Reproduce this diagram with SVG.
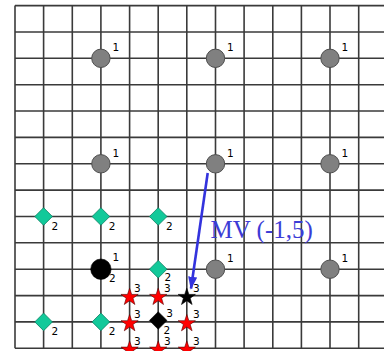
<svg xmlns="http://www.w3.org/2000/svg" width="384" height="351" viewBox="0 0 384 351">
  <style>
    .grid line { stroke: #3a3a3a; stroke-width: 1.6; }
    .pt1 { fill: #808080; stroke: #4e4e4e; stroke-width: 1; }
    .blk { fill: #000; stroke: #000; stroke-width: 0.6; }
    .dia { fill: #12c99a; stroke: #0b7f62; stroke-width: 0.8; }
    .star { fill: #ff0000; stroke: #5a0000; stroke-width: 0.6; }
    .lbl { font-family: "DejaVu Sans", sans-serif; font-size: 10.5px; fill: #000; }
    .mv { font-family: "Liberation Serif", serif; font-size: 25px; fill: #3c3cd6; }
  </style>
  <defs>
    <circle id="c1" r="9.2" class="pt1"/>
    <polygon id="dm" points="0,-8.8 8.8,0 0,8.8 -8.8,0"/>
    <polygon id="st" points="0,-9 2.1,-2.8 8.6,-2.8 3.4,1 5.3,7.3 0,3.5 -5.3,7.3 -3.4,1 -8.6,-2.8 -2.1,-2.8"/>
    <marker id="ah" viewBox="0 0 10 10" refX="9" refY="5" markerWidth="5" markerHeight="5" orient="auto" markerUnits="strokeWidth">
      <path d="M0,1.5 L10,5 L0,8.5 z" fill="#3333dd"/>
    </marker>
  </defs>

  <rect width="384" height="351" fill="#fff"/>

  <!-- lattice: 13 columns, 14 rows -->
  <g class="grid" id="grid">
    <line x1="15" y1="5.6" x2="15" y2="348.3"/>
    <line x1="43.6" y1="5.6" x2="43.6" y2="348.3"/>
    <line x1="72.3" y1="5.6" x2="72.3" y2="348.3"/>
    <line x1="100.9" y1="5.6" x2="100.9" y2="348.3"/>
    <line x1="129.6" y1="5.6" x2="129.6" y2="348.3"/>
    <line x1="158.2" y1="5.6" x2="158.2" y2="348.3"/>
    <line x1="186.8" y1="5.6" x2="186.8" y2="348.3"/>
    <line x1="215.5" y1="5.6" x2="215.5" y2="348.3"/>
    <line x1="244.1" y1="5.6" x2="244.1" y2="348.3"/>
    <line x1="272.8" y1="5.6" x2="272.8" y2="348.3"/>
    <line x1="301.4" y1="5.6" x2="301.4" y2="348.3"/>
    <line x1="330" y1="5.6" x2="330" y2="348.3"/>
    <line x1="358.7" y1="5.6" x2="358.7" y2="348.3"/>
    <line x1="15" y1="5.6" x2="384" y2="5.6"/>
    <line x1="15" y1="32" x2="384" y2="32"/>
    <line x1="15" y1="58.3" x2="384" y2="58.3"/>
    <line x1="15" y1="84.7" x2="384" y2="84.7"/>
    <line x1="15" y1="111" x2="384" y2="111"/>
    <line x1="15" y1="137.4" x2="384" y2="137.4"/>
    <line x1="15" y1="163.8" x2="384" y2="163.8"/>
    <line x1="15" y1="190.1" x2="384" y2="190.1"/>
    <line x1="15" y1="216.5" x2="384" y2="216.5"/>
    <line x1="15" y1="242.8" x2="384" y2="242.8"/>
    <line x1="15" y1="269.2" x2="384" y2="269.2"/>
    <line x1="15" y1="295.6" x2="384" y2="295.6"/>
    <line x1="15" y1="321.9" x2="384" y2="321.9"/>
    <line x1="15" y1="348.3" x2="384" y2="348.3"/>
  </g>

  <!-- level-1 points -->
  <g id="p1a"><use href="#c1" x="100.9" y="58.3"/><text class="lbl" x="112.5" y="51">1</text></g>
  <g id="p1b"><use href="#c1" x="215.5" y="58.3"/><text class="lbl" x="227" y="51">1</text></g>
  <g id="p1c"><use href="#c1" x="330" y="58.3"/><text class="lbl" x="341.5" y="51">1</text></g>
  <g id="p1d"><use href="#c1" x="100.9" y="163.8"/><text class="lbl" x="112.5" y="156.5">1</text></g>
  <g id="p1e"><use href="#c1" x="215.5" y="163.8"/><text class="lbl" x="227" y="156.5">1</text></g>
  <g id="p1f"><use href="#c1" x="330" y="163.8"/><text class="lbl" x="341.5" y="156.5">1</text></g>
  <g id="p1g"><use href="#c1" x="215.5" y="269.2"/><text class="lbl" x="227" y="262">1</text></g>
  <g id="p1h"><use href="#c1" x="330" y="269.2"/><text class="lbl" x="341.5" y="262">1</text></g>

  <!-- current point -->
  <g id="cur">
    <circle cx="100.9" cy="269.2" r="10.2" class="blk"/>
    <text class="lbl" x="112.5" y="261">1</text>
    <text class="lbl" x="109" y="282">2</text>
  </g>

  <!-- level-2 points -->
  <g id="p2a"><use href="#dm" class="dia" x="43.6" y="216.5"/><text class="lbl" x="51.5" y="229.5">2</text></g>
  <g id="p2b"><use href="#dm" class="dia" x="100.9" y="216.5"/><text class="lbl" x="108.8" y="229.5">2</text></g>
  <g id="p2c"><use href="#dm" class="dia" x="158.2" y="216.5"/><text class="lbl" x="166" y="229.5">2</text></g>
  <g id="p2d"><use href="#dm" class="dia" x="158.2" y="269.2"/><text class="lbl" x="164.5" y="281">2</text></g>
  <g id="p2e"><use href="#dm" class="dia" x="43.6" y="321.9"/><text class="lbl" x="51.5" y="334.5">2</text></g>
  <g id="p2f"><use href="#dm" class="dia" x="100.9" y="321.9"/><text class="lbl" x="108.8" y="334.5">2</text></g>
  <g id="p2g">
    <use href="#dm" class="blk" x="158.2" y="320.5"/>
    <text class="lbl" x="166.3" y="316.5">3</text>
    <text class="lbl" x="163.5" y="333.5">2</text>
  </g>

  <!-- level-3 points -->
  <g id="s1"><use href="#st" class="star" x="129.6" y="297.2"/><text class="lbl" x="134" y="291.5">3</text></g>
  <g id="s2"><use href="#st" class="star" x="158.2" y="297.2"/><text class="lbl" x="164" y="291.5">3</text></g>
  <g id="s3"><use href="#st" class="blk" x="186.8" y="297.2"/><text class="lbl" x="193" y="291.5">3</text></g>
  <g id="s4"><use href="#st" class="star" x="129.6" y="323.5"/><text class="lbl" x="134" y="317.8">3</text></g>
  <g id="s5"><use href="#st" class="star" x="186.8" y="323.5"/><text class="lbl" x="193" y="317.8">3</text></g>
  <g id="s6"><use href="#st" class="star" x="129.6" y="349.9"/><text class="lbl" x="134" y="344.5">3</text></g>
  <g id="s7"><use href="#st" class="star" x="158.2" y="349.9"/><text class="lbl" x="164" y="344.5">3</text></g>
  <g id="s8"><use href="#st" class="star" x="186.8" y="349.9"/><text class="lbl" x="193" y="344.5">3</text></g>

  <!-- motion vector -->
  <g id="connectors">
    <line x1="207.7" y1="173" x2="191" y2="288.5" stroke="#3333dd" stroke-width="2.6" marker-end="url(#ah)"/>
  </g>
  <text class="mv" x="210.5" y="237.5">MV (-1,5)</text>
</svg>
